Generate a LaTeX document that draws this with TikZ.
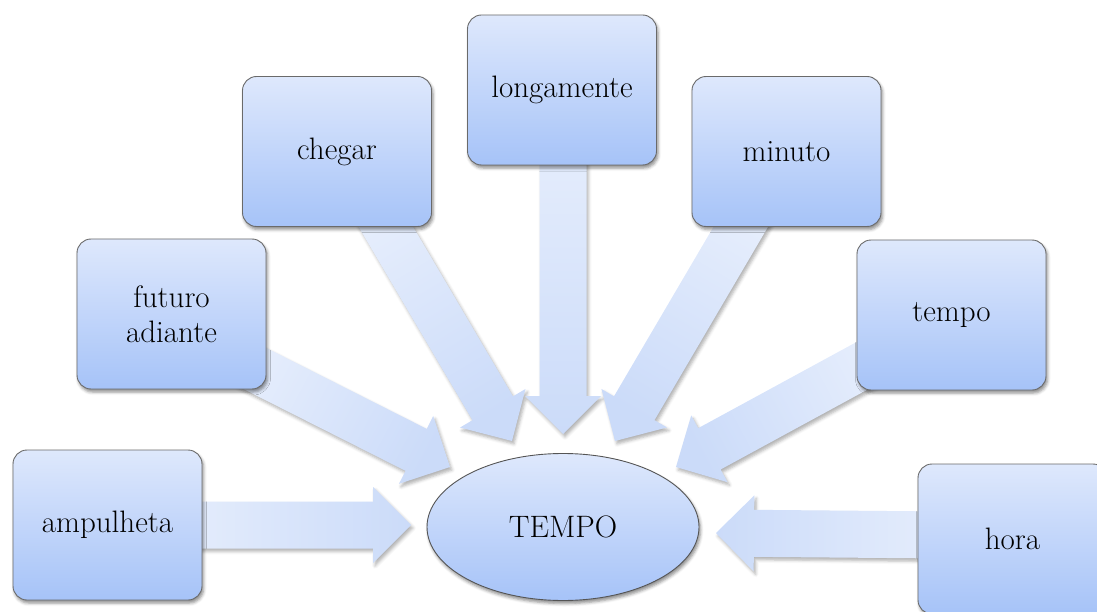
\documentclass[tikz,border=0pt]{standalone}
\usetikzlibrary{calc,shapes.geometric,shadows.blur}
\definecolor{boxtop}{HTML}{DEE8FC}
\definecolor{boxbot}{HTML}{A6C3F8}
\definecolor{arrtail}{HTML}{E5EDFC}
\definecolor{arrtip}{HTML}{CBDBF9}
\definecolor{edgegray}{HTML}{6A6A6A}
\tikzset{
  termbox/.style={rectangle, rounded corners=14pt, draw=edgegray, line width=0.9pt,
    top color=boxtop, bottom color=boxbot, minimum width=189pt, minimum height=150pt,
    inner sep=0pt, align=center, font=\fontsize{31}{35}\selectfont,
    blur shadow={shadow xshift=1.5pt, shadow yshift=-3pt, shadow blur radius=3pt, shadow opacity=45}},
  centre/.style={ellipse, draw=edgegray!80!black, line width=0.9pt,
    top color=boxtop, bottom color=boxbot, minimum width=272pt, minimum height=147pt,
    inner sep=0pt, font=\fontsize{31}{35}\selectfont,
    blur shadow={shadow xshift=1.5pt, shadow yshift=-3pt, shadow blur radius=3pt, shadow opacity=45}},
  blockarr/.style={top color=arrtip, bottom color=arrtail,
    blur shadow={shadow xshift=2pt, shadow yshift=-3pt, shadow blur radius=3pt, shadow opacity=30}}
}
\newcommand{\blockarrow}[3]{%
  \coordinate (hb) at ($(#2)!38pt!(#1)$);
  \path[blockarr, shading angle=#3]
    ($(#1)!23.5pt!90:(#2)$) -- ($(hb)!23.5pt!90:(#2)$) -- ($(hb)!38pt!90:(#2)$)
    -- (#2) -- ($(hb)!38pt!-90:(#2)$) -- ($(hb)!23.5pt!-90:(#2)$)
    -- ($(#1)!23.5pt!-90:(#2)$) -- cycle;
}
\begin{document}
\begin{tikzpicture}[x=1pt, y=-1pt]
\useasboundingbox (0,0) rectangle (1097,612);
% tails and tips
\coordinate (tamp) at (176,525);  \coordinate (pamp) at (411,525);
\coordinate (tfut) at (244,363);  \coordinate (pfut) at (450,467);
\coordinate (tche) at (373,205);  \coordinate (pche) at (512,441);
\coordinate (tlon) at (563,140);  \coordinate (plon) at (563,434);
\coordinate (tmin) at (753,206);  \coordinate (pmin) at (615,441);
\coordinate (ttem) at (880,356);  \coordinate (ptem) at (676,467);
\coordinate (thor) at (944,535);  \coordinate (phor) at (716,533);
\blockarrow{tamp}{pamp}{-90}
\blockarrow{tfut}{pfut}{-118}
\blockarrow{tche}{pche}{-149}
\blockarrow{tlon}{plon}{-180}
\blockarrow{tmin}{pmin}{-210}
\blockarrow{ttem}{ptem}{-242}
\blockarrow{thor}{phor}{90}
% nodes
\node[termbox] (amp) at (107.5,525) {ampulheta};
\node[termbox] (fut) at (171.5,314) {futuro\\adiante};
\node[termbox] (che) at (337,151.5) {chegar};
\node[termbox] (lon) at (562,90) {longamente};
\node[termbox] (min) at (786.5,151.5) {minuto};
\node[termbox] (tem) at (951.5,315) {tempo};
\node[termbox] (hor) at (1012.5,539) {hora};
\node[centre] (tempo) at (563,527) {TEMPO};
\end{tikzpicture}
\end{document}
